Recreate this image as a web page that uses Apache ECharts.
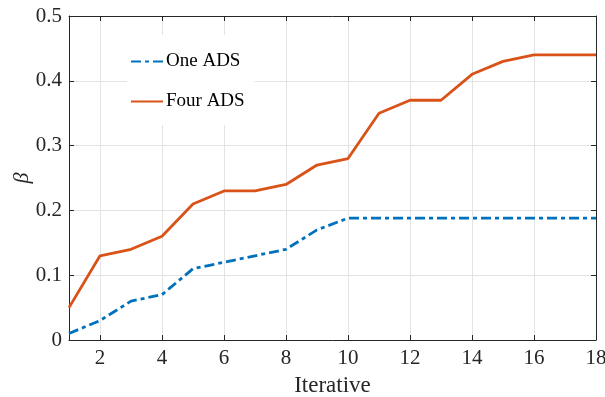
<!DOCTYPE html>
<html><head><meta charset="utf-8">
<script src="https://cdn.jsdelivr.net/npm/echarts@6/dist/echarts.min.js"></script>
<style>html,body{margin:0;padding:0;background:#fff}#c{width:605px;height:397px}</style>
</head><body><div id="c"></div>
<script>
const iterations = [1,2,3,4,5,6,7,8,9,10,11,12,13,14,15,16,17,18];
const oneADS  = [0.01,0.03,0.06,0.07,0.11,0.12,0.13,0.14,0.17,0.188,0.188,0.188,0.188,0.188,0.188,0.188,0.188,0.188];
const fourADS = [0.05,0.13,0.14,0.16,0.21,0.23,0.23,0.24,0.27,0.28,0.35,0.37,0.37,0.41,0.43,0.44,0.44,0.44];
const xTicks = [2,4,6,8,10,12,14,16,18];
const yTicks = [0,0.1,0.2,0.3,0.4,0.5];

const font = 'Liberation Serif';
const axisCol = '#262626';
const chart = echarts.init(document.getElementById('c'), null, {renderer:'canvas'});
const line = {show:true, onZero:false, lineStyle:{color:axisCol, width:1}};
chart.setOption({
  animation:false,
  grid:{left:69, right:9, top:16, bottom:57, containLabel:false, outerBoundsMode:'none'},
  legend:{
    orient:'vertical', left:127, top:35,
    backgroundColor:'#fff', padding:[17,10,14,3], itemGap:21,
    itemWidth:32, itemHeight:19,
    itemStyle:{opacity:0},
    textStyle:{fontFamily:font, fontSize:19, color:'#000', padding:[0,0,0,-2]},
    data:['One ADS','Four ADS']
  },
  xAxis:[{
    type:'value', min:1, max:18,
    axisLine:line,
    axisTick:{show:true, inside:true, length:5, lineStyle:{color:axisCol}, customValues:xTicks},
    axisLabel:{fontFamily:font, fontSize:21, color:axisCol, margin:8, customValues:xTicks},
    splitLine:{show:true, lineStyle:{color:'#e3e3e3', width:1}},
    name:'Iterative', nameLocation:'middle', nameGap:34, nameMoveOverlap:false,
    nameTextStyle:{fontFamily:font, fontSize:23, color:axisCol}
  },{
    type:'value', position:'top', min:1, max:18,
    axisLine:line,
    axisTick:{show:true, inside:true, length:5, lineStyle:{color:axisCol}, customValues:xTicks},
    axisLabel:{show:false}, splitLine:{show:false}
  }],
  yAxis:[{
    type:'value', min:0, max:0.5, interval:0.1,
    axisLine:line,
    axisTick:{show:true, inside:true, length:5, lineStyle:{color:axisCol}},
    axisLabel:{fontFamily:font, fontSize:21, color:axisCol, margin:7,
      formatter:v=>{const r=Math.round(v*10)/10; return r===0?'0':r.toFixed(1);}},
    splitLine:{show:true, lineStyle:{color:'#e3e3e3', width:1}},
    name:'β', nameLocation:'middle', nameGap:36, nameRotate:90, nameMoveOverlap:false,
    nameTextStyle:{fontFamily:font, fontSize:22, fontStyle:'italic', color:axisCol}
  },{
    type:'value', position:'right', min:0, max:0.5, interval:0.1,
    axisLine:line,
    axisTick:{show:true, inside:true, length:5, lineStyle:{color:axisCol}},
    axisLabel:{show:false}, splitLine:{show:false}
  }],
  series:[{
    name:'One ADS', type:'line', showSymbol:false, symbol:'none',
    data: iterations.map((x,i)=>[x, oneADS[i]]),
    itemStyle:{color:'#0072BD'},
    lineStyle:{color:'#0072BD', width:2.8, type:[10,4,4,4]}
  },{
    name:'Four ADS', type:'line', showSymbol:false, symbol:'none',
    data: iterations.map((x,i)=>[x, fourADS[i]]),
    itemStyle:{color:'#D95319'},
    lineStyle:{color:'#D95319', width:2.8}
  }]
});
</script></body></html>
